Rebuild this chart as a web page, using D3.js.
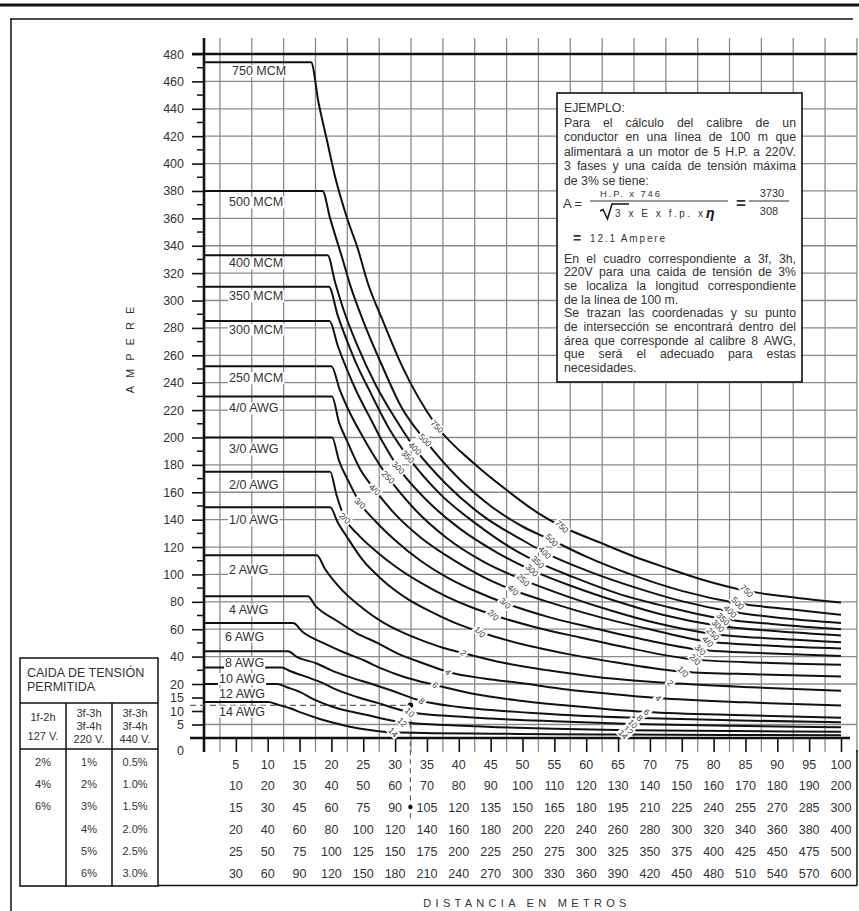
<!DOCTYPE html>
<html>
<head>
<meta charset="utf-8">
<title>Calibre de conductores</title>
<script src="https://cdn.jsdelivr.net/npm/d3@7"></script>
<style>
  body { margin: 0; background: #fff; }
  svg { display: block; font-family: "Liberation Sans", Arial, sans-serif; }
</style>
</head>
<body>
<svg id="chart" width="859" height="911"></svg>
<script>
// ---------------- values ----------------
// ampere against distance (first row of the distance table)

var conductorNames = ["750 MCM", "500 MCM", "400 MCM", "350 MCM", "300 MCM", "250 MCM",
    "4/0 AWG", "3/0 AWG", "2/0 AWG", "1/0 AWG", "2 AWG", "4 AWG", "6 AWG",
    "8 AWG", "10 AWG", "12 AWG", "14 AWG"];
var curveTags = ["750", "500", "400", "350", "300", "250", "4/0", "3/0", "2/0", "1/0",
    "2", "4", "6", "8", "10", "12", "14"];

var c750 = [[0,474],[16.8,474],[18,444],[19.3,417],[20.6,390],[22.4,361],[24.2,337],[25.7,313],[28,286],[31,253],[36.6,208],[42.4,181],[47.4,162],[52.4,145],[56.2,135],[62.3,123],[67.3,113.5],[72.5,105],[78,96.5],[85.2,88],[92,83.5],[100,79.5]];
var c500 = [[0,380],[18.6,380],[19.8,360],[21.7,331],[22.9,312],[25,285],[28,252],[31,222],[34.7,198],[40,170],[45,150],[50,135],[54.6,125],[60,113],[67,100],[75,88],[83.8,79],[92,74.5],[100,70.5]];
var c400 = [[0,333],[19.4,333],[20.6,313],[22,292],[24,268],[27,238],[30,214],[33.1,192],[38,166],[44,142],[50,125],[53.5,116],[60,103],[68,90],[75,80.5],[82.6,73],[91,68],[100,64.5]];
var c350 = [[0,310],[19.6,310],[21,289],[22.5,270],[24,253],[26,234],[29,207],[32,186],[37,159],[43,136],[48,120],[52.4,109],[58,98],[65,86],[73,76],[81.5,67.5],[90,63.5],[100,60]];
var c300 = [[0,285],[19.7,285],[21,267],[22.5,249],[24,233],[26,215],[28,197],[30.5,178],[35,154],[40,134],[46,116],[51.5,103],[58,91],[65,80],[72,70.5],[80.7,62.5],[90,58.5],[100,55.5]];
var c250 = [[0,252],[20,252],[21.3,235],[22.8,219],[24.5,204],[26.5,188],[28.9,171],[33,148],[38,127],[44,109],[50.1,96],[57,84],[64,73.5],[71,64.5],[79.9,56.5],[90,53],[100,50.5]];
var c4_0 = [[0,230],[20.1,230],[21.2,211],[22.5,197],[24.5,177],[26.8,162],[30,144],[34,127],[39,111],[43.5,99],[48.5,88.6],[55,78.5],[62,69],[70,60],[79.1,51],[89,48],[100,46]];
var c3_0 = [[0,200],[20.1,200],[21.2,183],[22.8,167],[24.5,152],[27,138.5],[30,125],[34,110],[38.5,97],[43,87],[47.3,79],[54,69],[61,61],[69,52.5],[77.9,45],[88,42.5],[100,40.5]];
var c2_0 = [[0,175],[19.8,175],[20.8,158],[22.1,141],[24,130],[27,117],[30,106],[34,94],[38,84],[42,76],[45.4,70.4],[52,61.5],[59,54],[67,46],[77.1,37.8],[88,35.5],[100,34]];
var c1_0 = [[0,149],[19.8,149],[21,138],[22.5,127],[25,110],[28,96],[32,82],[36,72],[40,63.5],[43.3,58],[50,49],[57,42],[65,35.5],[75.2,29],[87,27],[100,25.5]];
var c2 = [[0,114],[17.7,114],[19,104],[21.8,88],[25,75],[28.1,65],[31,58],[34.4,51.5],[37.5,46.5],[40.7,42.6],[47,35.5],[54,30],[62,25],[73.2,20.7],[86,18.8],[100,17.5]];
var c4 = [[0,84],[16.3,84],[17.5,77],[20.9,66],[24,57],[27.2,50],[30.5,42],[34.5,35],[38.3,28.8],[44,24],[50,20.5],[57,18],[64,16.3],[71.3,14.8],[85,13.2],[100,12]];
var c6 = [[0,64.5],[14,64.5],[15.5,58],[18.7,50],[22,43],[25,37.5],[28,31],[31.2,25.5],[36.3,19.6],[42,16.5],[49,14],[57,12],[69.5,9.6],[85,8.4],[100,7.5]];
var c8 = [[0,44],[13.2,44],[14.5,40],[17.7,35],[20,30],[22.9,25],[26,20.5],[29.2,17.8],[34.2,13.7],[40,11.5],[47,10],[56,8.6],[68.4,7.4],[84,6.5],[100,5.8]];
var c10 = [[0,32],[12.2,32],[13.5,29.5],[16.2,25],[18.5,21],[20.9,17.8],[24,15.2],[27.2,13],[32.3,9.5],[38,8.2],[45,7.2],[55,6.2],[67.3,5.2],[83,4.5],[100,4]];
var c12 = [[0,20],[11.5,20],[13,18.8],[15.1,17],[17.5,14],[20.3,11.5],[25.6,8.5],[31.2,5.8],[38,4.8],[46,4],[55,3.4],[66.6,2.9],[83,2.6],[100,2.3]];
var c14 = [[0,13.3],[10.1,13.3],[11.5,12.4],[13.5,11],[15.5,9.2],[17.7,7.4],[20,5.8],[22.9,4.2],[26,3],[29.7,2.1],[36,1.8],[45,1.6],[55,1.4],[65.8,1.3],[82,1.1],[100,1.0]];

var curves = [c750, c500, c400, c350, c300, c250, c4_0, c3_0, c2_0, c1_0, c2, c4, c6, c8, c10, c12, c14];

// distance at which the small gauge tags sit on the curves
var tagsA = [36.6, 34.7, 33.1, 32.0, 30.5, 28.9, 26.8, 24.5, 22.1];
var tagsB = [56.2, 54.6, 53.5, 52.4, 51.5, 50.1, 48.5, 47.3, 45.4, 43.3, 40.7, 38.3, 36.3, 34.2, 32.3, 31.1, 29.7];
var tagsC = [85.2, 83.8, 82.6, 81.5, 80.7, 79.9, 79.1, 77.9, 77.1, 75.2, 73.2, 71.3, 69.5, 68.4, 67.3, 66.6, 65.8];

var yTicks = [0, 5, 10, 15, 20, 40, 60, 80, 100, 120, 140, 160, 180, 200, 220, 240, 260, 280, 300, 320, 340, 360, 380, 400, 420, 440, 460, 480];
var yGrid = [5, 20, 40, 60, 80, 100, 120, 140, 160, 180, 200, 220, 240, 260, 280, 300, 320, 340, 360, 380, 400, 420, 440, 460];

var distRow1 = [5, 10, 15, 20, 25, 30, 35, 40, 45, 50, 55, 60, 65, 70, 75, 80, 85, 90, 95, 100];
var distRow2 = [10, 20, 30, 40, 50, 60, 70, 80, 90, 100, 110, 120, 130, 140, 150, 160, 170, 180, 190, 200];
var distRow3 = [15, 30, 45, 60, 75, 90, 105, 120, 135, 150, 165, 180, 195, 210, 225, 240, 255, 270, 285, 300];
var distRow4 = [20, 40, 60, 80, 100, 120, 140, 160, 180, 200, 220, 240, 260, 280, 300, 320, 340, 360, 380, 400];
var distRow5 = [25, 50, 75, 100, 125, 150, 175, 200, 225, 250, 275, 300, 325, 350, 375, 400, 425, 450, 475, 500];
var distRow6 = [30, 60, 90, 120, 150, 180, 210, 240, 270, 300, 330, 360, 390, 420, 450, 480, 510, 540, 570, 600];
var distRows = [distRow1, distRow2, distRow3, distRow4, distRow5, distRow6];

var dropHead = [["1f-2h", "127 V."], ["3f-3h", "3f-4h", "220 V."], ["3f-3h", "3f-4h", "440 V."]];
var drop1f = ["2%", "4%", "6%"];
var drop220 = ["1%", "2%", "3%", "4%", "5%", "6%"];
var drop440 = ["0.5%", "1.0%", "1.5%", "2.0%", "2.5%", "3.0%"];

var exampleDistance = 32.4;
var exampleAmpere = 12.1;

var exampleTop = [
    ["EJEMPLO:", false],
    ["Para el cálculo del calibre de un", true],
    ["conductor en una línea de 100 m que", true],
    ["alimentará a un motor de 5 H.P. a 220V.", true],
    ["3 fases y una caída de tensión máxima", true],
    ["de 3% se tiene:", false]
];
var exampleBottom = [
    ["En el cuadro correspondiente a 3f, 3h,", true],
    ["220V para una caida de tensión de 3%", true],
    ["se localiza la longitud correspondiente", true],
    ["de la linea de 100 m.", false],
    ["Se trazan las coordenadas y su punto", true],
    ["de intersección se encontrará dentro del", true],
    ["área que corresponde al calibre 8 AWG,", true],
    ["que será el adecuado para estas", true],
    ["necesidades.", false]
];

// label placement (pixels from the axis / below the flat part)
var nameDx = [28, 25, 25, 25, 25, 25, 25, 25, 25, 25, 25, 25, 21, 21, 15, 15, 15];
var nameDy = [13, 15.5, 12, 13.5, 12.5, 16, 16, 16, 17, 17, 19, 18, 17.5, 16, 15.5, 13.5, 13.5];

// ---------------- drawing ----------------
var svg = d3.select("#chart");
var ink = "#111", textInk = "#333", gridInk = "#8a8a8a";

var x = d3.scaleLinear().domain([0, 100]).range([204, 841]);
var y = d3.scaleLinear().domain([0, 20, 480]).range([738, 684, 54]);

var right = 857;

// page frame
svg.append("line").attr("x1", 0).attr("x2", 859).attr("y1", 5).attr("y2", 5)
    .attr("stroke", ink).attr("stroke-width", 3);
svg.append("line").attr("x1", 10).attr("x2", 853).attr("y1", 19).attr("y2", 19)
    .attr("stroke", ink).attr("stroke-width", 1.5);
svg.append("line").attr("x1", 11).attr("x2", 11).attr("y1", 19).attr("y2", 911)
    .attr("stroke", ink).attr("stroke-width", 1.5);

// grid
var grid = svg.append("g");
grid.selectAll(".vg").data(d3.range(2.5, 103, 5)).enter().append("line")
    .attr("x1", d => x(d)).attr("x2", d => x(d))
    .attr("y1", 38).attr("y2", 752)
    .attr("stroke", gridInk).attr("stroke-width", 1.3);
grid.selectAll(".hg").data(yGrid).enter().append("line")
    .attr("x1", x(0)).attr("x2", right)
    .attr("y1", d => y(d)).attr("y2", d => y(d))
    .attr("stroke", gridInk).attr("stroke-width", 1.3);

// y axis ticks and labels
var yAxis = d3.axisLeft(y).tickValues(yTicks).tickSize(12).tickPadding(8);
var ya = svg.append("g").attr("transform", "translate(" + x(0) + ",0)").call(yAxis);
ya.select(".domain").remove();
ya.selectAll(".tick line").attr("stroke", ink).attr("stroke-width", 1.6);
ya.selectAll(".tick text").attr("fill", textInk).style("font-size", "12.5px")
    .style("font-family", "'Liberation Sans', Arial, sans-serif");
ya.selectAll(".tick").filter(d => d === 0).select("text").attr("dy", "1.3em");
ya.selectAll(".tick").filter(d => d === 0).select("line").remove();

svg.append("g").selectAll("line").data(d3.range(30, 480, 20)).enter().append("line")
    .attr("x1", x(0) - 7).attr("x2", x(0))
    .attr("y1", d => y(d)).attr("y2", d => y(d))
    .attr("stroke", ink).attr("stroke-width", 1.5);

// x axis ticks
var xAxis = d3.axisBottom(x).tickValues(distRow1).tickSize(14).tickFormat("");
var xa = svg.append("g").attr("transform", "translate(0," + y(0) + ")").call(xAxis);
xa.select(".domain").remove();
xa.selectAll(".tick line").attr("stroke", ink).attr("stroke-width", 1.6);

// top line (480) and the two axis lines
svg.append("line").attr("x1", x(0) - 12).attr("x2", right).attr("y1", y(480)).attr("y2", y(480))
    .attr("stroke", ink).attr("stroke-width", 2.6);
svg.append("line").attr("x1", x(0)).attr("x2", x(0)).attr("y1", 38).attr("y2", 752)
    .attr("stroke", ink).attr("stroke-width", 2.6);
svg.append("line").attr("x1", x(0) - 14).attr("x2", 850).attr("y1", y(0)).attr("y2", y(0))
    .attr("stroke", ink).attr("stroke-width", 2.6);

// example guide lines
var ex = x(exampleDistance), ey = y(exampleAmpere);
svg.append("line").attr("x1", 190).attr("x2", ex).attr("y1", ey).attr("y2", ey)
    .attr("stroke", "#666").attr("stroke-width", 1.2).attr("stroke-dasharray", "6,4");
svg.append("line").attr("x1", ex).attr("x2", ex).attr("y1", ey).attr("y2", 820)
    .attr("stroke", "#666").attr("stroke-width", 1.2).attr("stroke-dasharray", "5,4");

// curves
var line = d3.line().x(d => x(d[0])).y(d => y(d[1])).curve(d3.curveMonotoneX);
var paths = svg.append("g").selectAll("path").data(curves).enter().append("path")
    .attr("d", line).attr("fill", "none").attr("stroke", ink).attr("stroke-width", 2);

svg.append("circle").attr("cx", ex).attr("cy", ey).attr("r", 2.8).attr("fill", ink);

// conductor names on the flat parts
var names = svg.append("g").style("font-size", "12.5px").attr("fill", textInk);
conductorNames.forEach(function (n, i) {
    var g = names.append("g");
    var t = g.append("text").attr("x", x(0) + nameDx[i]).attr("y", y(curves[i][0][1]) + nameDy[i]).text(n);
    var b = t.node().getBBox();
    g.insert("rect", "text").attr("x", b.x - 1).attr("y", b.y + 1).attr("width", b.width + 2)
        .attr("height", b.height - 2).attr("fill", "#fff");
});

// small tags along the curves
function yOnPath(node, px) {
    var lo = 0, hi = node.getTotalLength();
    for (var k = 0; k < 30; k++) {
        var mid = (lo + hi) / 2;
        if (node.getPointAtLength(mid).x < px) lo = mid; else hi = mid;
    }
    return node.getPointAtLength(lo).y;
}
var pathNodes = paths.nodes();
var tags = svg.append("g").style("font-size", "8.5px").attr("fill", textInk);
function addTags(list) {
    list.forEach(function (d, i) {
        var px = x(d), py = yOnPath(pathNodes[i], px);
        var g = tags.append("g").attr("transform", "translate(" + px + "," + py + ") rotate(45)");
        var t = g.append("text").attr("text-anchor", "middle").attr("dy", "0.35em").text(curveTags[i]);
        var w = t.node().getComputedTextLength();
        g.insert("rect", "text").attr("x", -w / 2 - 1.5).attr("y", -4.5).attr("width", w + 3)
            .attr("height", 9).attr("fill", "#fff");
    });
}
addTags(tagsA);
addTags(tagsB);
addTags(tagsC);

// axis titles
svg.append("text").attr("transform", "translate(134,346) rotate(-90)")
    .attr("text-anchor", "middle").style("font-size", "11px").style("letter-spacing", "8px")
    .attr("fill", textInk).text("AMPERE");
svg.append("text").attr("x", 527).attr("y", 907).attr("text-anchor", "middle")
    .style("font-size", "11px").style("letter-spacing", "4.3px").attr("fill", textInk)
    .text("DISTANCIA EN METROS");

// distance table
var rows = svg.append("g").style("font-size", "12.5px").attr("fill", textInk).attr("text-anchor", "middle");
distRows.forEach(function (r, k) {
    rows.selectAll(".r" + k).data(r).enter().append("text")
        .attr("x", (d, i) => x(distRow1[i])).attr("y", 768.5 + k * 21.8).text(d => d);
});
svg.append("circle").attr("cx", ex).attr("cy", 807).attr("r", 2.2).attr("fill", ink);
svg.append("line").attr("x1", 20).attr("x2", right).attr("y1", 885.5).attr("y2", 885.5)
    .attr("stroke", ink).attr("stroke-width", 1.5);
svg.append("line").attr("x1", right).attr("x2", right).attr("y1", 750).attr("y2", 885.5)
    .attr("stroke", ink).attr("stroke-width", 1.5);

// voltage-drop table
var tb = svg.append("g").attr("fill", textInk);
tb.append("rect").attr("x", 20).attr("y", 658).attr("width", 138).attr("height", 228)
    .attr("fill", "#fff").attr("stroke", ink).attr("stroke-width", 1.5);
[[20, 158, 703], [20, 158, 749]].forEach(function (l) {
    tb.append("line").attr("x1", l[0]).attr("x2", l[1]).attr("y1", l[2]).attr("y2", l[2])
        .attr("stroke", ink).attr("stroke-width", 1.5);
});
[66, 112].forEach(function (cx) {
    tb.append("line").attr("x1", cx).attr("x2", cx).attr("y1", 703).attr("y2", 886)
        .attr("stroke", ink).attr("stroke-width", 1.5);
});
tb.append("text").attr("x", 27).attr("y", 677).style("font-size", "12.5px").text("CAIDA DE TENSIÓN");
tb.append("text").attr("x", 27).attr("y", 691).style("font-size", "12.5px").text("PERMITIDA");
var colX = [43, 89, 135];
tb.append("text").attr("x", colX[0]).attr("y", 721).attr("text-anchor", "middle").style("font-size", "11px").text(dropHead[0][0]);
tb.append("text").attr("x", colX[0]).attr("y", 740).attr("text-anchor", "middle").style("font-size", "11px").text(dropHead[0][1]);
[1, 2].forEach(function (c) {
    dropHead[c].forEach(function (s, j) {
        tb.append("text").attr("x", colX[c]).attr("y", 717 + j * 13).attr("text-anchor", "middle")
            .style("font-size", "11px").text(s);
    });
});
[drop1f, drop220, drop440].forEach(function (col, c) {
    col.forEach(function (s, j) {
        tb.append("text").attr("x", colX[c]).attr("y", 766 + j * 22.2).attr("text-anchor", "middle")
            .style("font-size", "11px").text(s);
    });
});

// example box
var bx = svg.append("g").attr("fill", textInk).style("font-size", "12.3px");
bx.append("rect").attr("x", 557).attr("y", 93).attr("width", 245).attr("height", 289)
    .attr("fill", "#fff").attr("stroke", ink).attr("stroke-width", 1.6);

function textLine(str, x0, x1, yb, just) {
    if (!just) { bx.append("text").attr("x", x0).attr("y", yb).text(str); return; }
    var words = str.split(" ");
    var widths = words.map(function (w) {
        var t = bx.append("text").text(w);
        var wd = t.node().getComputedTextLength();
        t.remove();
        return wd;
    });
    var gap = (x1 - x0 - d3.sum(widths)) / (words.length - 1);
    if (gap < 2.5) {
        bx.append("text").attr("x", x0).attr("y", yb).attr("textLength", x1 - x0)
            .attr("lengthAdjust", "spacingAndGlyphs").text(str);
        return;
    }
    var cx = x0;
    words.forEach(function (w, i) {
        bx.append("text").attr("x", cx).attr("y", yb).text(w);
        cx += widths[i] + gap;
    });
}
exampleTop.forEach(function (l, i) {
    textLine(l[0], 564, 796, (i === 0 ? 111.5 : 127 + (i - 1) * 14.4), l[1]);
});
exampleBottom.forEach(function (l, i) {
    textLine(l[0], 564, 796, 262.5 + i * 13.7, l[1]);
});

// formula
var f = bx.append("g");
f.append("text").attr("x", 563).attr("y", 207.5).style("font-size", "13px").text("A =");
f.append("line").attr("x1", 590).attr("x2", 728).attr("y1", 201).attr("y2", 201).attr("stroke", textInk).attr("stroke-width", 1.2);
f.append("text").attr("x", 600).attr("y", 197).style("font-size", "9.5px")
    .attr("textLength", 60).attr("lengthAdjust", "spacing").text("H.P. x 746");
f.append("path").attr("d", "M600,211 L603,209.5 L607.5,219 L612,204 L629,204")
    .attr("fill", "none").attr("stroke", ink).attr("stroke-width", 1.5);
f.append("text").attr("x", 615).attr("y", 217).style("font-size", "10px")
    .attr("textLength", 88).attr("lengthAdjust", "spacing").text("3  x  E  x  f.p.  x");
f.append("text").attr("x", 706).attr("y", 218).style("font-size", "14px").style("font-weight", "bold")
    .style("font-style", "italic").attr("fill", ink).text("η");
f.append("text").attr("x", 741).attr("y", 208.5).attr("text-anchor", "middle").style("font-size", "17px")
    .style("font-weight", "bold").text("=");
f.append("line").attr("x1", 749).attr("x2", 789).attr("y1", 201).attr("y2", 201).attr("stroke", textInk).attr("stroke-width", 1.2);
f.append("text").attr("x", 772).attr("y", 197).attr("text-anchor", "middle").style("font-size", "11px").text("3730");
f.append("text").attr("x", 769).attr("y", 214.5).attr("text-anchor", "middle").style("font-size", "11px").text("308");
f.append("text").attr("x", 573).attr("y", 242.5).style("font-size", "14px").style("font-weight", "bold").text("=");
f.append("text").attr("x", 590).attr("y", 241.5).style("font-size", "10px")
    .attr("textLength", 75).attr("lengthAdjust", "spacing").text("12.1 Ampere");
</script>
</body>
</html>
